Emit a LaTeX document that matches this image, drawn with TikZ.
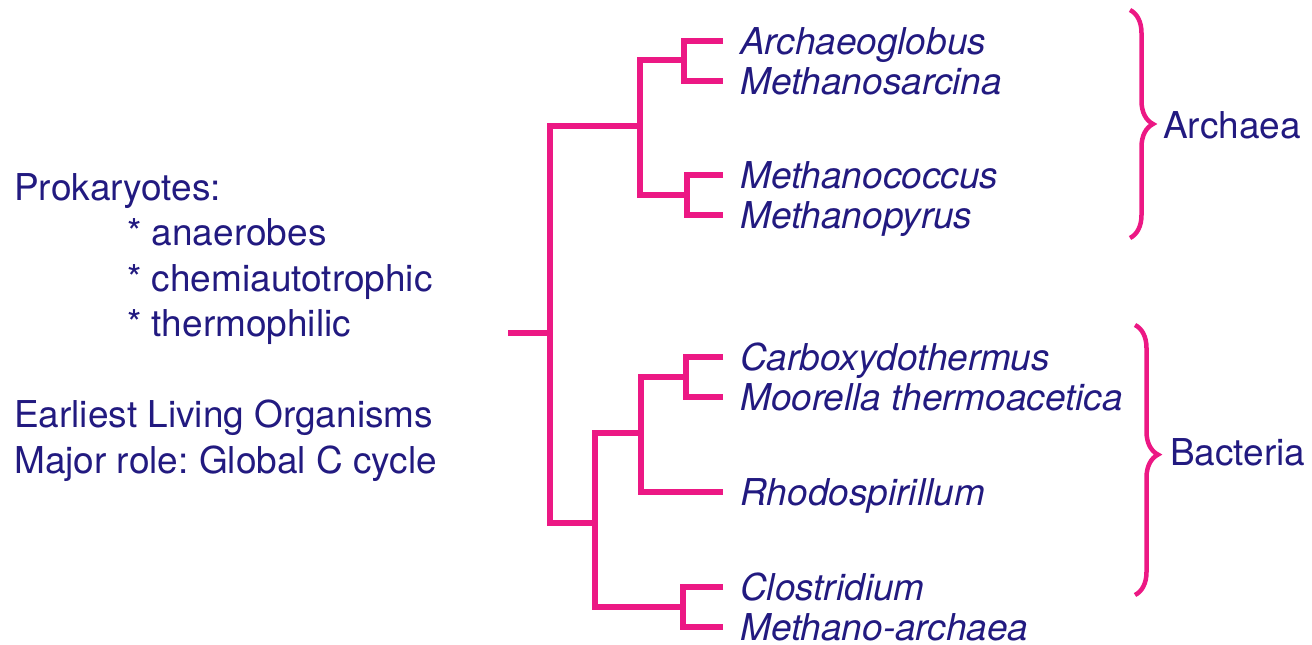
\documentclass[tikz,border=0pt]{standalone}
\usepackage{fontspec}
\setmainfont{TeX Gyre Heros}
\usepackage{xcolor}
\usetikzlibrary{positioning,calc,decorations.pathreplacing}
\definecolor{treepink}{RGB}{236,24,132}
\definecolor{labelblue}{RGB}{34,26,128}
\frenchspacing

\begin{document}
\begin{tikzpicture}[
    x=1pt, y=-1pt,
    branch/.style={draw=treepink, line width=6pt, line join=miter},
    taxon/.style={anchor=west, inner xsep=17pt, inner ysep=0pt, text height=27pt, text depth=0pt,
        font=\fontsize{37}{46}\selectfont\itshape, text=labelblue},
    group/.style={anchor=west, inner sep=0pt, text height=27pt, text depth=0pt,
        font=\fontsize{37}{46}\selectfont, text=labelblue},
    notes/.style={anchor=north west, inner sep=0pt, align=left,
        font=\fontsize{37}{45.5}\selectfont, text=labelblue},
    bracket/.style={draw=treepink, line width=4.5pt, decorate, decoration={brace, amplitude=23pt}}
]
\useasboundingbox (0,0) rectangle (1312,645);

% left-hand notes
\node[notes] (traits) at (14,173) {Prokaryotes:\\
    \hspace*{113pt}* anaerobes\\
    \hspace*{113pt}* chemiautotrophic\\
    \hspace*{113pt}* thermophilic};
\node[notes] (role) at (14,400) {Earliest Living Organisms\\Major role: Global C cycle};

% leaves
\node[taxon] (archaeo) at (723,41) {Archaeoglobus};
\node[taxon] (msarcina) at (723,81) {Methanosarcina};
\node[taxon] (mcoccus) at (723,175) {Methanococcus};
\node[taxon] (mpyrus) at (723,215) {Methanopyrus};
\node[taxon] (carboxy) at (723,357) {Carboxydothermus};
\node[taxon] (moorella) at (723,397) {Moorella thermoacetica};
\node[taxon] (rhodo) at (723,492) {Rhodospirillum};
\node[taxon] (clostr) at (723,587) {Clostridium};
\node[taxon] (marchaea) at (723,627) {Methano-archaea};

% junctions
\coordinate (stem) at (508,333);
\coordinate (root) at (550,333);
\coordinate (archaea) at (640,126);
\coordinate (archA) at (684,60);
\coordinate (archB) at (687,195);
\coordinate (bacteria) at (595,523);
\coordinate (bactA) at (641,433);
\coordinate (bactAA) at (686,377);
\coordinate (bactB) at (683,607);

\draw[branch] (archaeo.west) -| (archA) |- (msarcina.west);
\draw[branch] (mcoccus.west) -| (archB) |- (mpyrus.west);
\draw[branch] (archA) -| (archaea) |- (archB);
\draw[branch] (carboxy.west) -| (bactAA) |- (moorella.west);
\draw[branch] (bactAA) -| (bactA) |- (rhodo.west);
\draw[branch] (clostr.west) -| (bactB) |- (marchaea.west);
\draw[branch] (bactA) -| (bacteria) |- (bactB);
\draw[branch] (archaea) -| (root) |- (bacteria);
\draw[branch] (stem) -- (root);

% groups
\coordinate (archTop) at (1130,10);
\coordinate (archBot) at (1130,238);
\coordinate (bactTop) at (1135,325);
\coordinate (bactBot) at (1135,595);
\draw[bracket] (archTop) -- (archBot);
\draw[bracket, decoration={aspect=0.48}] (bactTop) -- (bactBot);
\node[group] (archlabel) at (1163,125) {Archaea};
\node[group] (bactlabel) at (1170,452) {Bacteria};

\end{tikzpicture}
\end{document}
